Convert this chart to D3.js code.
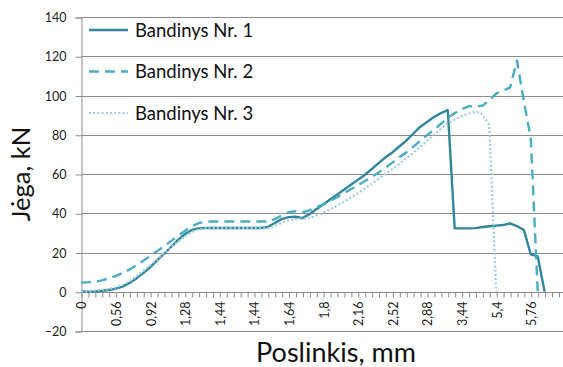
<!DOCTYPE html>
<html>
<head>
<meta charset="utf-8">
<script src="https://cdn.jsdelivr.net/npm/d3@7"></script>
<style>
  html, body { margin: 0; padding: 0; background: #fff; }
  svg { display: block; font-family: Lato, "Open Sans", sans-serif; }
</style>
</head>
<body>
<script>
// categories on the x axis (only every 5th one carries a label)
const categoryCount = 70;
const labelStep = 5;
const tickLabels = ["0", "0,56", "0,92", "1,28", "1,44", "1,44", "1,64", "1,8", "2,16", "2,52", "2,88", "3,44", "5,4", "5,76"];

const seriesNames = ["Bandinys Nr. 1", "Bandinys Nr. 2", "Bandinys Nr. 3"];

// force, kN, one value per category
const force1 = [0, 0, 0.2, 0.5, 0.9, 1.6, 2.6, 4.5, 6.8, 9.5, 12.5, 16, 19.3, 22.8, 26.3, 29.3, 31.5, 32.3, 32.5, 32.5,
  32.5, 32.5, 32.5, 32.5, 32.5, 32.5, 32.5, 33, 35, 37, 38, 38.2, 37.5, 39.5, 42, 44.5, 47, 49.5, 52, 54.5,
  57, 59.5, 62.5, 65.5, 68.5, 71, 74, 77, 80.5, 84, 86.5, 89, 91, 92.5, 32.3, 32.3, 32.3, 32.4, 33, 33.4,
  33.7, 34, 34.8, 33.5, 31.5, 19, 18, 0];
const force2 = [4.7, 4.8, 5.1, 5.8, 6.8, 8, 9.5, 11.3, 13.5, 15.8, 18.2, 20.7, 23.2, 25.8, 28.5, 31, 33.3, 35, 35.7, 35.8,
  35.8, 35.8, 35.8, 35.8, 35.8, 35.8, 35.8, 35.8, 37, 38.8, 40.5, 41, 40.5, 41.5, 43, 44.5, 46.3, 48.2, 50.2, 52.2,
  54.3, 56.3, 58.5, 60.7, 63.2, 65.8, 68.5, 71, 73.8, 76.8, 79.8, 82.5, 85.5, 88.7, 91, 93, 94.5, 94.5, 94.8, 97.5,
  101, 102.5, 104, 117.8, 97, 78, 0];
const force3 = [0, 0.2, 0.5, 0.9, 1.4, 2.2, 3.5, 5.3, 7.8, 10.5, 13.5, 16.5, 19.5, 22.5, 25.5, 28.2, 30.4, 31.8, 32.3, 32.4,
  32.4, 32.4, 32.4, 32.4, 32.4, 32.4, 32.4, 32.4, 33.5, 35, 36.3, 37, 37.3, 37.5, 38.8, 40.3, 42, 43.8, 45.8, 48,
  50.2, 52.5, 55, 57.5, 60, 62.5, 65.2, 68, 70.8, 73.8, 76.8, 80, 83, 85.7, 87.8, 89.5, 90.8, 91.8, 90.5, 85,
  0];

const width = 563, height = 367;
const plotLeft = 81, plotTop = 17, plotBottom = 331, plotRight = 563;

const x = d3.scalePoint()
  .domain(d3.range(categoryCount))
  .range([plotLeft, plotLeft + (categoryCount - 1) * 6.92]);

const y = d3.scaleLinear()
  .domain([-20, 140])
  .range([plotBottom, plotTop]);

const gridColor = "#8c8c8c";

const svg = d3.select("body").append("svg")
  .attr("width", width)
  .attr("height", height);

// horizontal gridlines
svg.append("g")
  .selectAll("line")
  .data(y.ticks(8))
  .join("line")
  .attr("x1", plotLeft)
  .attr("x2", plotRight)
  .attr("y1", d => Math.round(y(d)) + 0.5)
  .attr("y2", d => Math.round(y(d)) + 0.5)
  .attr("stroke", gridColor)
  .attr("stroke-width", 1);

// y axis
const yAxis = svg.append("g")
  .attr("transform", `translate(${plotLeft + 0.5},0.5)`)
  .call(d3.axisLeft(y).ticks(8).tickSize(6).tickPadding(9).tickFormat(d3.format("d")));
yAxis.select(".domain").attr("stroke", gridColor);
yAxis.selectAll(".tick line").attr("stroke", gridColor);
yAxis.selectAll(".tick text")
  .attr("font-family", "Lato, sans-serif")
  .attr("font-size", 12.5)
  .attr("fill", "#222");

// x axis at zero
const xAxis = svg.append("g")
  .attr("transform", `translate(0.5,${Math.round(y(0)) + 0.5})`)
  .call(d3.axisBottom(x).tickSize(5).tickSizeOuter(0).tickFormat(d => d % labelStep === 0 ? tickLabels[d / labelStep] : ""));
xAxis.select(".domain").attr("stroke", gridColor).attr("d", `M${plotLeft},0H${plotRight}`);
xAxis.selectAll(".tick line").attr("stroke", gridColor);
xAxis.selectAll(".tick text")
  .attr("font-family", "Lato, sans-serif")
  .attr("font-size", 12.5)
  .attr("fill", "#222")
  .attr("text-anchor", "end")
  .attr("transform", "rotate(-90)")
  .attr("x", -9)
  .attr("y", 0)
  .attr("dy", "0.35em");

// series
const styles = [
  { color: "#31859c", dash: null, width: 2.4 },
  { color: "#4bacc6", dash: "10,6", width: 2.4 },
  { color: "#9ccbdd", dash: "2,2.2", width: 2.2 }
];
const allSeries = [force1, force2, force3];

const line = d3.line()
  .x((d, i) => x(i))
  .y(d => y(d));

svg.append("g")
  .selectAll("path")
  .data(allSeries)
  .join("path")
  .attr("d", d => line(d))
  .attr("fill", "none")
  .attr("stroke", (d, i) => styles[i].color)
  .attr("stroke-width", (d, i) => styles[i].width)
  .attr("stroke-dasharray", (d, i) => styles[i].dash)
  .attr("stroke-linejoin", "round");

// legend
const legend = svg.append("g")
  .selectAll("g")
  .data(seriesNames)
  .join("g")
  .attr("transform", (d, i) => `translate(89,${30 + i * 41.5})`);
legend.append("line")
  .attr("x1", 0).attr("x2", 39)
  .attr("stroke", (d, i) => styles[i].color)
  .attr("stroke-width", (d, i) => styles[i].width)
  .attr("stroke-dasharray", (d, i) => styles[i].dash);
legend.append("text")
  .attr("x", 46)
  .attr("dy", "0.36em")
  .attr("font-size", 18.5)
  .attr("fill", "#111")
  .text(d => d);

// axis titles
svg.append("text")
  .attr("transform", `translate(30,${(plotTop + plotBottom) / 2}) rotate(-90)`)
  .attr("text-anchor", "middle")
  .attr("font-size", 25.5)
  .attr("fill", "#111")
  .text("Jėga, kN");

svg.append("text")
  .attr("x", 336)
  .attr("y", 362)
  .attr("text-anchor", "middle")
  .attr("font-size", 27)
  .attr("fill", "#111")
  .text("Poslinkis, mm");
</script>
</body>
</html>
